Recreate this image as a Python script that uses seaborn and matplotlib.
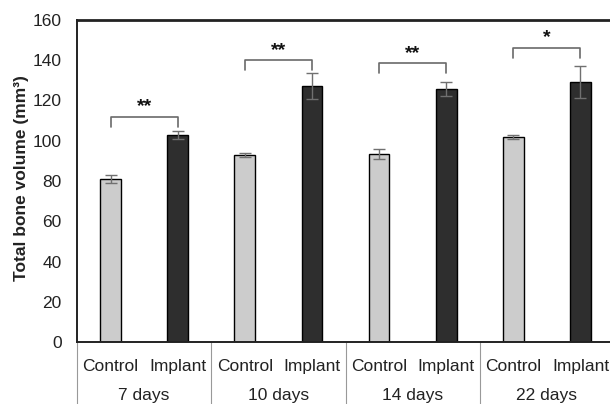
import matplotlib
matplotlib.use("Agg")
import matplotlib.pyplot as plt
import matplotlib.transforms as mtransforms
import seaborn as sns
import pandas as pd

# ---- data ----
groups = ["7 days", "10 days", "14 days", "22 days"]
treatments = ["Control", "Implant"]
control_means = [81, 93, 93.5, 102]
implant_means = [103, 127, 125.5, 129]
control_err = [2, 1, 2.5, 1]
implant_err = [2, 6.5, 3.5, 8]
signif = ["**", "**", "**", "*"]
bracket_top = [112, 140, 138.5, 146]
yticks = [0, 20, 40, 60, 80, 100, 120, 140, 160]

rows = []
for g, cm, im, ce, ie in zip(groups, control_means, implant_means, control_err, implant_err):
    rows.append({"key": f"{g} Control", "group": g, "treat": "Control", "value": cm, "err": ce})
    rows.append({"key": f"{g} Implant", "group": g, "treat": "Implant", "value": im, "err": ie})
df = pd.DataFrame(rows)

sns.set_theme(style="white")
plt.rcParams["font.family"] = ["Liberation Sans", "DejaVu Sans"]

fig = plt.figure(figsize=(6.10, 4.04), dpi=100)
ax = fig.add_axes([77 / 610, (404 - 342) / 404, 537 / 610, 322 / 404])

palette = {"Control": "#cccccc", "Implant": "#2e2e2e"}
sns.barplot(data=df, x="key", y="value", hue="treat", order=list(df["key"]),
            palette=palette, dodge=False, width=0.31, errorbar=None,
            edgecolor="black", linewidth=1.0, legend=False, ax=ax)

xs = list(range(len(df)))
ax.errorbar(xs, df["value"], yerr=df["err"], fmt="none", ecolor="#707070",
            elinewidth=1.0, capsize=4, capthick=1.0, zorder=5)

ax.set_xlim(-0.5, 2 * len(groups) - 0.5)
ax.set_ylim(0, 160)
ax.set_yticks(yticks)
ax.set_yticklabels([str(t) for t in yticks], fontsize=12.5, color="#222222")
ax.set_xticks(xs)
ax.set_xticklabels(list(df["treat"]), fontsize=12.5, color="#222222")
ax.tick_params(axis="y", length=0, pad=11)
ax.tick_params(axis="x", length=0, pad=12)
ax.set_xlabel("")
ax.set_ylabel("Total bone volume (mm³)", fontsize=12.5, fontweight="bold", color="#222222")
ax.yaxis.set_label_coords(-0.089, 0.51)

for side in ["left", "bottom"]:
    ax.spines[side].set_color("#222222")
    ax.spines[side].set_linewidth(1.4)
ax.spines["top"].set_color("#222222")
ax.spines["top"].set_linewidth(2.0)
ax.spines["right"].set_visible(False)

trans = mtransforms.blended_transform_factory(ax.transData, ax.transAxes)
for k in range(len(groups) + 1):
    xb = 2 * k - 0.5
    ax.plot([xb, xb], [0, -0.3], transform=trans, color="#999999", lw=0.8,
            clip_on=False, zorder=1)

for k, g in enumerate(groups):
    ax.text(2 * k + 0.5, -0.165, g, transform=trans, ha="center", va="center",
            fontsize=12.5, color="#222222")

for k in range(len(groups)):
    x0, x1 = 2 * k, 2 * k + 1
    yt = bracket_top[k]
    ax.plot([x0, x0, x1, x1], [yt - 5, yt, yt, yt - 5], color="#6a6a6a", lw=1.2, zorder=4)
    ax.text((x0 + x1) / 2, yt + 0.8, signif[k], ha="center", va="bottom",
            fontsize=14, fontweight="bold", color="#111111")

fig.savefig("out.png", dpi=100)
